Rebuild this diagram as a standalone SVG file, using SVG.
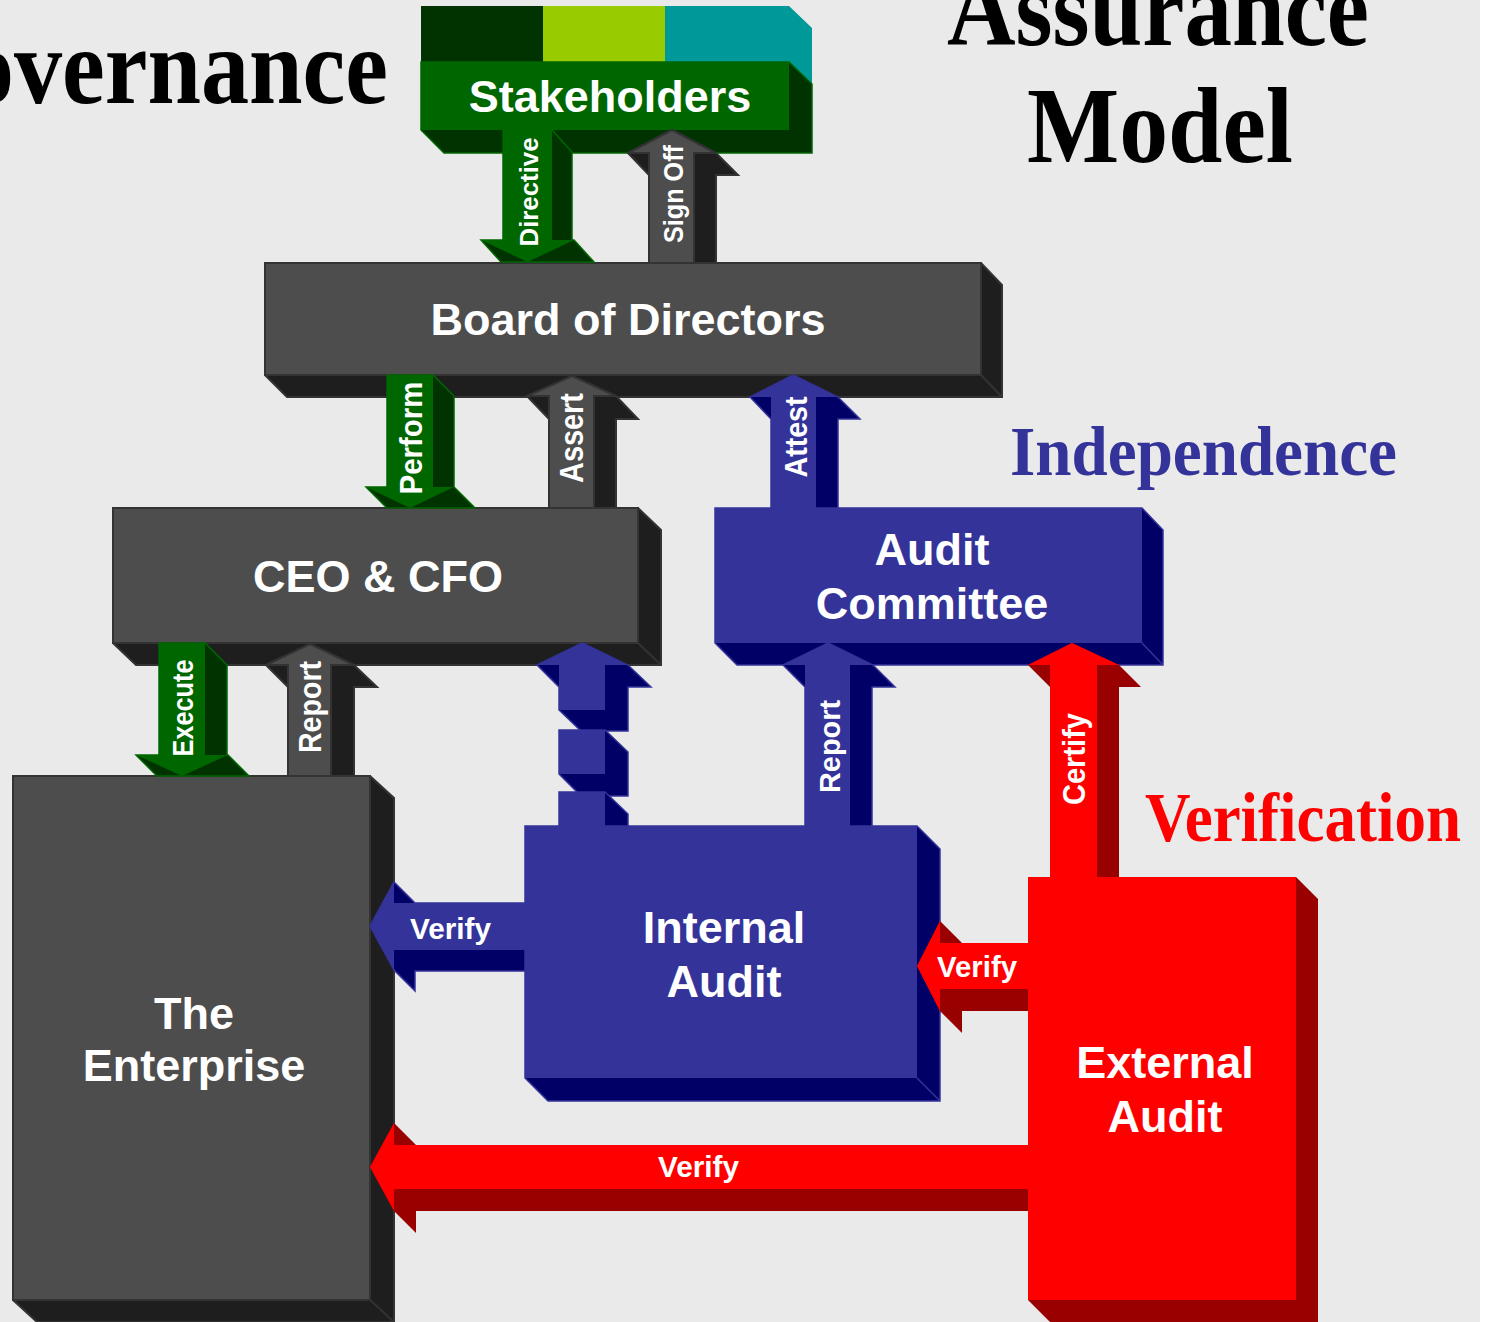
<svg xmlns="http://www.w3.org/2000/svg" width="1485" height="1322" viewBox="0 0 1485 1322">
<style>
.gf{fill:#4D4D4D;stroke:#333333;stroke-width:2}
.gd{fill:#1E1E1E;stroke:#333333;stroke-width:2}
.nf{fill:#006600}
.nd{fill:#003300;stroke:#006600;stroke-width:1.5}
.bf{fill:#333399}
.bd{fill:#000066;stroke:#333399;stroke-width:1.5}
.rf{fill:#FF0000}
.rd{fill:#990000}
.nl{font-family:"Liberation Sans",Arial,sans-serif;font-weight:bold;font-size:45px;fill:#FFFFFF;text-anchor:middle}
.al{font-family:"Liberation Sans",Arial,sans-serif;font-weight:bold;fill:#FFFFFF}
.tt{font-family:"Liberation Serif","Times New Roman",serif;font-weight:bold}
</style>
<rect x="0" y="0" width="1485" height="1322" fill="#FFFFFF"/>
<rect x="0" y="0" width="1480" height="1322" fill="#EAEAEA"/>

<g id="titles">
<text class="tt" x="-109" y="103" font-size="107" textLength="497" lengthAdjust="spacingAndGlyphs" fill="#000000">Governance</text>
<text class="tt" x="947" y="45" font-size="107" textLength="422" lengthAdjust="spacingAndGlyphs" fill="#000000">Assurance</text>
<text class="tt" x="1027" y="162" font-size="107" textLength="266" lengthAdjust="spacingAndGlyphs" fill="#000000">Model</text>
<text class="tt" x="1010" y="475" font-size="70" textLength="387" lengthAdjust="spacingAndGlyphs" fill="#333399">Independence</text>
<text class="tt" x="1145" y="841" font-size="69" textLength="316" lengthAdjust="spacingAndGlyphs" fill="#FF0000">Verification</text>
</g>

<g id="nodes">
<g id="stakeholders">
<rect x="421" y="6" width="122" height="56" fill="#003300"/>
<rect x="543" y="6" width="122" height="56" fill="#99CC00"/>
<polygon points="665,6 789,6 812,28 812,84 789,62 665,62" fill="#009999"/>
<polygon class="nd" points="421,62 789,62 812,84 812,153 444,153 421,130"/>
<rect class="nf" x="421" y="62" width="368" height="68"/>
<text class="nl" x="610" y="112">Stakeholders</text>
</g>
<g id="board">
<path class="gd" d="M265,263 L981,263 L1002,285 L1002,397 L287,397 L265,375 Z M981,375 L1002,397"/>
<rect class="gf" x="265" y="263" width="716" height="112"/>
<text class="nl" x="628" y="335">Board of Directors</text>
</g>
<g id="ceo-cfo">
<path class="gd" d="M113,508 L638,508 L661,530 L661,665 L136,665 L113,643 Z M638,643 L661,665"/>
<rect class="gf" x="113" y="508" width="525" height="135"/>
<text class="nl" x="378" y="592">CEO &amp; CFO</text>
</g>
<g id="audit-committee">
<path class="bd" d="M715,508 L1142,508 L1163,530 L1163,665 L737,665 L715,643 Z M1142,643 L1163,665"/>
<rect class="bf" x="715" y="508" width="427" height="135"/>
<text class="nl" x="932" y="565">Audit</text>
<text class="nl" x="932" y="619">Committee</text>
</g>
<g id="enterprise">
<path class="gd" d="M13,776 L370,776 L394,798 L394,1322 L37,1322 L13,1300 Z M370,1300 L394,1322"/>
<rect class="gf" x="13" y="776" width="357" height="524"/>
<text class="nl" x="194" y="1029">The</text>
<text class="nl" x="194" y="1081">Enterprise</text>
</g>
<g id="internal-audit">
<path class="bd" d="M525,826 L917,826 L940,849 L940,1101 L548,1101 L525,1078 Z M917,1078 L940,1101"/>
<rect class="bf" x="525" y="826" width="392" height="252"/>
<text class="nl" x="724" y="943">Internal</text>
<text class="nl" x="724" y="997">Audit</text>
</g>
<g id="external-audit">
<polygon class="rd" points="1028,877 1296,877 1318,899 1318,1322 1050,1322 1028,1300"/>
<rect class="rf" x="1028" y="877" width="268" height="423"/>
<text class="nl" x="1165" y="1078">External</text>
<text class="nl" x="1165" y="1132">Audit</text>
</g>
</g>

<g id="connectors">
<g id="directive">
<polygon class="nd" points="503,130 552,130 572,152 572,240 574,240 594,262 501,262 481,240 503,240"/>
<polygon class="nf" points="503,130 552,130 552,240 574,240 527.5,262 481,240 503,240"/>
<text class="al" transform="translate(538,192) rotate(-90)" x="-54.5" font-size="26" textLength="109" lengthAdjust="spacingAndGlyphs">Directive</text>
</g>
<g id="sign-off">
<polygon class="gd" points="672,130 716,153 738,175 716,175 716,263 649,263 649,175 628,153"/>
<polygon class="gf" points="672,130 716,153 694,153 694,263 649,263 649,153 628,153"/>
<text class="al" transform="translate(683,194) rotate(-90)" x="-49" font-size="27" textLength="98" lengthAdjust="spacingAndGlyphs">Sign Off</text>
</g>
<g id="perform">
<polygon class="nd" points="387,375 433,375 454,396 454,487 454,487 475,508 387,508 366,487 387,487"/>
<polygon class="nf" points="387,375 433,375 433,487 454,487 410,508 366,487 387,487"/>
<text class="al" transform="translate(422,438) rotate(-90)" x="-56.5" font-size="31" textLength="113" lengthAdjust="spacingAndGlyphs">Perform</text>
</g>
<g id="assert">
<polygon class="gd" points="572,376 616,396 638,419 616,419 616,508 549,508 549,419 527,396"/>
<polygon class="gf" points="572,376 616,396 594,396 594,508 549,508 549,396 527,396"/>
<text class="al" transform="translate(583,438) rotate(-90)" x="-45" font-size="33" textLength="90" lengthAdjust="spacingAndGlyphs">Assert</text>
</g>
<g id="attest">
<polygon class="bd" points="793,375 838,397 860,419 838,419 838,508 771,508 771,419 750,397"/>
<polygon class="bf" points="793,375 838,397 816,397 816,508 771,508 771,397 750,397"/>
<text class="al" transform="translate(807,437) rotate(-90)" x="-40.5" font-size="32" textLength="81" lengthAdjust="spacingAndGlyphs">Attest</text>
</g>
<g id="execute">
<polygon class="nd" points="159,643 205,643 227,665 227,755 228,755 249,776 157,776 136,755 159,755"/>
<polygon class="nf" points="159,643 205,643 205,755 228,755 182,776 136,755 159,755"/>
<text class="al" transform="translate(193,708) rotate(-90)" x="-48.5" font-size="30" textLength="97" lengthAdjust="spacingAndGlyphs">Execute</text>
</g>
<g id="report-enterprise">
<polygon class="gd" points="310,644 354,665 377,687 354,687 354,776 288,776 288,687 266,665"/>
<polygon class="gf" points="310,644 354,665 331,665 331,776 288,776 288,665 266,665"/>
<text class="al" transform="translate(321,707) rotate(-90)" x="-46" font-size="31" textLength="92" lengthAdjust="spacingAndGlyphs">Report</text>
</g>
<g id="internal-to-ceo">
<polygon class="bd" points="582,643 628,665 651,687 628,687 628,731 581,731 559,710 559,687 537,665"/>
<polygon class="bf" points="582,643 628,665 605,665 605,710 559,710 559,665 537,665"/>
<polygon class="bd" points="559,730 605,730 628,752 628,796 581,796 559,774"/>
<rect class="bf" x="559" y="730" width="46" height="44"/>
<polygon class="bd" points="559,792 605,792 628,814 628,826 559,826"/>
<rect class="bf" x="559" y="792" width="46" height="34"/>
</g>
<g id="report-internal">
<polygon class="bd" points="828,643 873,665 895,687 872,687 872,826 805,826 805,687 783,665"/>
<polygon class="bf" points="828,643 873,665 850,665 850,826 805,826 805,665 783,665"/>
<text class="al" transform="translate(840,746.5) rotate(-90)" x="-46.5" font-size="30" textLength="93" lengthAdjust="spacingAndGlyphs">Report</text>
</g>
<g id="certify">
<polygon class="rd" points="1072,643 1119,665 1141,687 1119,687 1119,877 1050,877 1050,687 1028,665"/>
<polygon class="rf" points="1072,643 1119,665 1097,665 1097,877 1050,877 1050,665 1028,665"/>
<text class="al" transform="translate(1085,759) rotate(-90)" x="-46" font-size="31" textLength="92" lengthAdjust="spacingAndGlyphs">Certify</text>
</g>
<g id="verify-internal">
<polygon class="bd" points="370,926 394,882 415,903 525,903 525,971 415,971 415,991 394,970"/>
<polygon class="bf" points="370,926 394,882 394,903 525,903 525,950 394,950 394,970"/>
<text class="al" x="410" y="939" font-size="30" textLength="81" lengthAdjust="spacingAndGlyphs">Verify</text>
</g>
<g id="verify-external-internal">
<polygon class="rd" points="917,966 940,921 962,943 1028,943 1028,1011 962,1011 962,1033 940,1011"/>
<polygon class="rf" points="917,966 940,921 940,943 1028,943 1028,989 940,989 940,1011"/>
<text class="al" x="937" y="977" font-size="30" textLength="80" lengthAdjust="spacingAndGlyphs">Verify</text>
</g>
<g id="verify-external-enterprise">
<polygon class="rd" points="370,1167 394,1123 416,1145 1028,1145 1028,1211 416,1211 416,1233 394,1211"/>
<polygon class="rf" points="370,1167 394,1123 394,1145 1028,1145 1028,1189 394,1189 394,1211"/>
<text class="al" x="658" y="1177" font-size="30" textLength="81" lengthAdjust="spacingAndGlyphs">Verify</text>
</g>
</g>
</svg>
